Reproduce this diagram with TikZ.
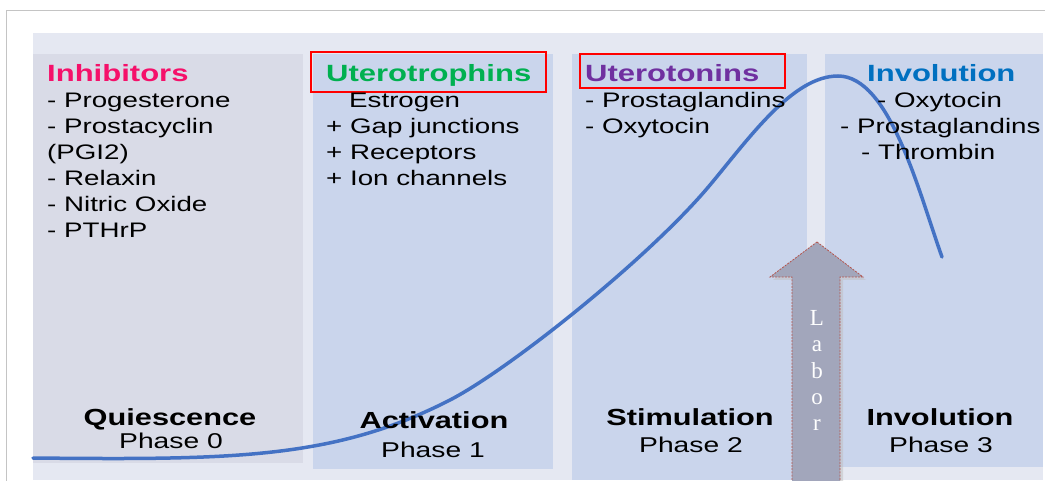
\documentclass[tikz,border=0pt]{standalone}
\usepackage{fontspec}
\setmainfont{Liberation Sans}[FakeStretch=1.32]
\newfontfamily\laborfont{Liberation Serif}
\definecolor{frameg}{HTML}{C4C4C4}
\definecolor{bgc}{HTML}{E5E8F2}
\definecolor{pgray}{HTML}{D9DBE7}
\definecolor{pblue}{HTML}{CAD5EC}
\definecolor{curveb}{HTML}{4472C4}
\definecolor{inhc}{HTML}{F5106A}
\definecolor{trophc}{HTML}{00B050}
\definecolor{tonc}{HTML}{7030A0}
\definecolor{invc}{HTML}{0070C0}
\definecolor{arrowf}{HTML}{A2A6BB}
\definecolor{arrowd}{HTML}{B4544C}
\tikzset{
  ttl/.style={anchor=base west, inner sep=0pt, font=\fontsize{23.5}{28}\selectfont\bfseries},
  bodytxt/.style={anchor=base west, inner sep=0pt, font=\fontsize{21}{26}\selectfont},
  phasename/.style={anchor=base, inner sep=0pt, font=\fontsize{23.3}{28}\selectfont\bfseries},
  phasenum/.style={anchor=base, inner sep=0pt, font=\fontsize{21.4}{26}\selectfont},
  redbox/.style={draw=red, line width=2pt},
  labletter/.style={anchor=base, inner sep=0pt, text=white, font=\laborfont\fontsize{23}{26}\selectfont}
}
\begin{document}
\begin{tikzpicture}[x=1pt,y=-1pt]
\useasboundingbox (0,0) rectangle (1045,481);
\clip (0,0) rectangle (1045,481);
\fill[white] (0,0) rectangle (1045,481);
% outer frame
\draw[frameg, line width=1pt] (6,490) -- (6,11) -- (1050,11);
% background and panels
\fill[bgc] (33,33) rectangle (1043,480);
\fill[pgray] (33,54) rectangle (303,463);
\fill[pblue] (313,54) rectangle (553,469);
\fill[pblue] (572,54) rectangle (807,480);
\fill[pblue] (825,54) rectangle (1043,467);
% red boxes
\draw[redbox] (311,52) rectangle (546,92);
\draw[redbox] (580,54) rectangle (785,88);
% Labor arrow
\fill[black!25, opacity=0.5] (819,245) -- (866,280) -- (843,280) -- (843,490) -- (795,490) -- (795,280) -- (773,280) -- cycle;
\draw[fill=arrowf, draw=arrowd, dashed, dash pattern=on 2pt off 1.2pt, line width=0.8pt]
  (817,242) -- (863,277) -- (840,277) -- (840,490) -- (792,490) -- (792,277) -- (770,277) -- cycle;
\node[labletter] (l1) at (817,326) {L};
\node[labletter] (l2) at (817,352) {a};
\node[labletter] (l3) at (817,378) {b};
\node[labletter] (l4) at (817,404) {o};
\node[labletter] (l5) at (817,430) {r};
% curve
\draw[curveb, line width=3.5pt, line cap=round]
  (33,458) .. controls (233,460) and (335,459) .. (450,400)
  .. controls (510,369) and (650,257) .. (710,185)
  .. controls (750,137) and (793,76) .. (838,76)
  .. controls (890,76) and (919,193) .. (942,257);
% Inhibitors
\node[ttl, text=inhc] (inh) at (47,82) {Inhibitors};
\node[bodytxt] (inh1) at (47,108) {- Progesterone};
\node[bodytxt] (inh2) at (47,134) {- Prostacyclin};
\node[bodytxt] (inh3) at (47,160) {(PGI2)};
\node[bodytxt] (inh4) at (47,186) {- Relaxin};
\node[bodytxt] (inh5) at (47,212) {- Nitric Oxide};
\node[bodytxt] (inh6) at (47,238) {- PTHrP};
% Uterotrophins
\node[ttl, text=trophc] (tro) at (326,82) {Uterotrophins};
\node[bodytxt] (tro1) at (349,108) {Estrogen};
\node[bodytxt] (tro2) at (326,134) {+ Gap junctions};
\node[bodytxt] (tro3) at (326,160) {+ Receptors};
\node[bodytxt] (tro4) at (326,186) {+ Ion channels};
% Uterotonins
\node[ttl, text=tonc] (ton) at (585,82) {Uterotonins};
\node[bodytxt] (ton1) at (585,108) {- Prostaglandins};
\node[bodytxt] (ton2) at (585,134) {- Oxytocin};
% Involution
\node[ttl, text=invc] (inv) at (867,82) {Involution};
\node[bodytxt] (inv1) at (877,108) {- Oxytocin};
\node[bodytxt] (inv2) at (840,134) {- Prostaglandins};
\node[bodytxt] (inv3) at (861,160) {- Thrombin};
% phase labels
\node[phasename] (q) at (170,425) {Quiescence};
\node[phasenum] (q0) at (171,448) {Phase 0};
\node[phasename] (a) at (434,428) {Activation};
\node[phasenum] (a1) at (433,457) {Phase 1};
\node[phasename] (s) at (690,425) {Stimulation};
\node[phasenum] (s2) at (691,452) {Phase 2};
\node[phasename] (i) at (940,425) {Involution};
\node[phasenum] (i3) at (941,452) {Phase 3};
\end{tikzpicture}
\end{document}
